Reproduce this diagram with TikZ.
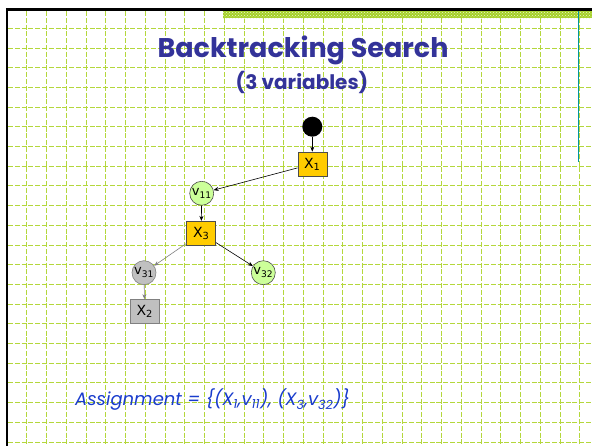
\documentclass[tikz,border=0pt]{standalone}
\usepackage{fontspec}
\setmainfont{DejaVu Sans}
\newfontfamily\titlefont{Poppins}
\newfontfamily\assignfont{Poppins}
\usetikzlibrary{arrows.meta,patterns}
\definecolor{gridgreen}{RGB}{180,215,60}
\definecolor{bandgreen}{RGB}{165,208,40}
\definecolor{titleblue}{RGB}{51,51,153}
\definecolor{assignblue}{RGB}{25,60,205}
\definecolor{gold}{RGB}{255,204,0}
\definecolor{lightgreen}{RGB}{204,255,153}
\definecolor{lgray}{RGB}{192,192,192}
\definecolor{dgray}{RGB}{128,128,128}
\definecolor{tealline}{RGB}{0,150,160}
\tikzset{
  gridline/.style={draw=gridgreen, line width=0.9pt, dash pattern=on 5pt off 1.8pt},
  varbox/.style={rectangle, draw=black!70, line width=0.6pt, fill=gold, minimum width=29pt, minimum height=24pt, inner sep=0pt, font=\fontsize{14}{16}\selectfont},
  grayvar/.style={varbox, fill=lgray, draw=dgray},
  valnode/.style={circle, draw=black!70, line width=0.6pt, fill=lightgreen, minimum size=24pt, inner sep=0pt, font=\fontsize{13}{15}\selectfont},
  grayval/.style={valnode, fill=lgray, draw=dgray},
  rootnode/.style={circle, fill=black, minimum size=20pt, inner sep=0pt},
  edge/.style={draw=black, line width=0.6pt, -{Stealth[length=5pt,width=4pt]}},
  grayedge/.style={edge, draw=dgray, -{Stealth[length=5pt,width=4pt,fill=dgray]}}
}
\begin{document}
\begin{tikzpicture}[x=1pt,y=-1pt]
\useasboundingbox (0,0) rectangle (592,446);
\fill[white] (0,0) rectangle (592,446);
% grid
\foreach \i in {0,...,28} \draw[gridline] ({26.7+19.75*\i},11) -- ({26.7+19.75*\i},446);
\foreach \j in {0,...,21} \draw[gridline] (8,{28.3+19.7*\j}) -- (592,{28.3+19.7*\j});
% band and borders
\fill[bandgreen] (223,11) rectangle (592,18.5);
\fill[pattern=crosshatch dots, pattern color=white!80!bandgreen] (223,11) rectangle (592,18.5);
\draw[line width=2.5pt] (5.8,9.6) -- (592,9.6);
\draw[line width=2.5pt] (7,9.6) -- (7,446);
\draw[tealline, line width=1pt] (578,11) -- (578,162);
% title
\node[font=\titlefont\bfseries\fontsize{27}{31}\selectfont, text=titleblue] (title) at (303,50) {Backtracking Search};
\node[font=\titlefont\bfseries\fontsize{20}{24}\selectfont, text=titleblue] (sub) at (302,82) {(3 variables)};
% tree
\node[rootnode] (root) at (312.3,126.7) {};
\node[varbox] (x1) at (312.3,164) {X\textsubscript{1}};
\node[valnode] (v11) at (201.7,193.3) {v\textsubscript{11}};
\node[varbox] (x3) at (201.2,233.2) {X\textsubscript{3}};
\node[grayval] (v31) at (144,272.7) {v\textsubscript{31}};
\node[valnode] (v32) at (263.3,272.7) {v\textsubscript{32}};
\node[grayvar] (x2) at (144.7,311.5) {X\textsubscript{2}};
\draw[edge] (root) -- (x1);
\draw[edge] (x1) -- (v11);
\draw[edge] (v11) -- (x3);
\draw[grayedge] (x3) -- (v31);
\draw[grayedge] (v31) -- (x2);
\draw[edge] (x3) -- (v32);
% assignment
\node[anchor=west, font=\assignfont\itshape\fontsize{18}{21}\selectfont, text=assignblue, inner sep=0pt] (assign) at (75,400) {Assignment = \{(X\textsubscript{1},v\textsubscript{11}), (X\textsubscript{3},v\textsubscript{32})\}};
\end{tikzpicture}
\end{document}
